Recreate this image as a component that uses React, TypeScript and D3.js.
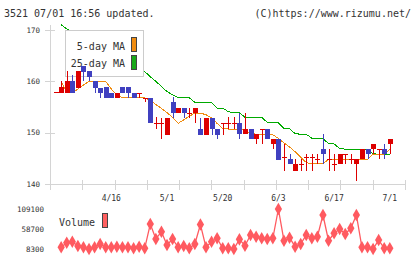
import React from 'react';
import * as d3 from 'd3';

// OHLC per trading day (index 0..60)
const opens = [157.9,157.8,157.8,160.0,158.7,163.0,162.0,160.0,158.7,158.9,157.8,156.8,158.9,158.9,157.8,157.8,156.8,156.8,151.8,151.8,149.6,155.9,153.8,154.8,153.8,153.8,150.7,149.6,152.9,150.7,151.8,151.9,151.9,151.9,149.7,150.8,148.8,150.7,150.7,147.8,148.8,145.2,144.8,142.5,143.9,145.3,145.3,144.8,146.8,144.8,143.9,143.9,145.8,144.8,143.9,144.8,146.8,146.8,146.8,146.8,147.8];
const highs = [157.9,160.0,162.0,161.3,162.0,163.0,162.0,160.0,158.7,158.9,157.8,157.8,158.9,158.9,157.8,157.8,156.8,156.8,153.0,152.9,152.9,156.9,154.8,154.8,154.8,154.8,152.9,152.9,152.9,150.7,151.8,153.0,153.0,153.9,153.9,150.8,149.7,150.7,150.7,148.8,148.8,147.8,145.8,144.8,144.8,145.9,145.9,145.9,149.7,146.8,145.8,145.8,145.8,145.8,144.8,146.8,146.8,147.8,146.8,147.8,148.8];
const lows = [157.9,157.8,157.8,157.8,158.7,160.0,160.0,157.8,156.8,156.8,156.8,156.8,157.8,156.8,156.8,156.8,155.9,151.8,150.8,148.8,149.6,152.9,153.8,152.9,152.9,151.8,149.6,149.6,149.6,148.8,149.6,150.8,150.8,148.8,149.7,148.8,147.8,147.8,148.8,146.8,144.7,142.5,143.8,142.5,142.5,142.5,142.5,143.9,143.9,142.5,142.5,143.9,143.9,143.9,140.6,144.8,144.8,145.8,144.8,144.8,145.8];
const closes = [157.9,158.9,160.0,157.8,162.0,161.8,160.9,158.7,157.8,156.8,156.8,157.8,157.8,157.8,156.8,157.8,156.8,151.8,151.8,151.8,152.9,153.8,154.8,153.8,153.8,154.8,149.6,152.9,150.7,149.6,151.8,151.9,151.9,149.7,150.8,148.8,149.7,150.7,148.8,148.8,144.7,145.2,143.9,143.9,143.9,145.3,145.3,144.8,145.8,144.8,143.9,145.8,145.8,144.8,144.8,146.8,145.8,147.8,146.8,145.8,148.8];
const upDay = [true,true,true,false,true,false,false,false,false,false,false,true,false,false,false,true,true,false,true,true,true,false,true,false,true,true,false,true,false,false,true,true,true,false,true,false,true,true,false,true,false,true,false,true,true,true,true,true,false,true,true,true,true,true,true,true,false,true,true,false,true];

const ma5 = [null,160,157.8,157.8,158.5,159.3,160,160,160,160,158.5,157.4,156.8,156.8,156.8,156.8,156.8,156.3,155.5,154.7,153.9,153.0,151.8,152.5,153.2,153.8,153.8,153.5,152.9,151.8,150.8,150.7,150.7,150.7,150.4,149.9,149.7,149.7,149.7,149.6,148.9,148.0,147.2,146.3,145.2,144.2,143.9,143.9,143.9,144.8,144.8,144.8,144.8,144.8,144.8,144.8,144.8,145.8,145.8,145.8,146.8];
const ma25 = [null,171.0,170.2,169.6,169.0,168.4,167.8,167.2,166.6,166.0,165.4,164.8,164.2,163.6,163.0,162.4,161.9,160.9,160.0,159.0,158.0,157.4,156.8,156.8,156.8,155.9,155.9,155.9,155.9,154.8,154.8,154.1,153.9,153.9,153.0,153.0,153.0,153.0,152.0,151.9,151.9,150.8,150.8,149.8,149.7,149.7,148.9,148.8,148.8,147.9,147.8,146.9,146.8,146.8,146.8,146.8,146.8,145.9,145.8,145.8,145.8];
const volumes = [null,12600,24200,26700,15900,12600,8300,12600,20900,12600,12600,14100,12600,12600,10100,14100,10100,71300,33500,51900,18400,33500,12600,15900,10100,20900,70000,12600,26700,35300,10100,10100,8300,32700,16600,43600,39300,35300,33500,35300,109100,29200,36800,14100,20900,43600,35300,39300,94000,29200,47900,58700,46100,60500,94000,12600,12600,8300,31000,10100,10100];

const xLabelIndex = [10,20,30,40,50,60];
const xLabels = ['4/16','5/1','5/20','6/3','6/17','7/1'];
const yTicks = [140,150,160,170];
const volTicks = [8300,58700,109100];
const legendItems = ['5-day MA','25-day MA'];

const RED = '#dd0000';
const BLUE = '#4040c0';
const ORANGE = '#f08c10';
const GREEN = '#00aa00';
const VOL = '#ff5a60';
const AXIS = '#d4d4d4';
const MONO = '"DejaVu Sans Mono", monospace';

export default function App() {
  const n = closes.length;
  const x = d3.scaleLinear().domain([0, n - 1]).range([55.6, 389.8]);
  const y = d3.scaleLinear().domain([140, 170]).range([184, 30]);
  const yv = d3.scaleLinear().domain([8300, 109100]).range([249, 209]);
  const tickX = d3.range(12).map((k) => 50 + k * (355 / 11));

  const maLine = d3
    .line<number | null>()
    .defined((d) => d != null)
    .x((_, i) => x(i))
    .y((d) => y(d as number));
  const volLine = d3
    .line<number | null>()
    .defined((d) => d != null)
    .x((_, i) => x(i))
    .y((d) => yv(d as number));
  const diamond = d3.symbol(d3.symbolDiamond, 46)();

  const bw = 5;

  return (
    <svg width={420} height={259} style={{ position: 'absolute', left: 0, top: 0, background: '#fff' }}>
      <text x={4} y={17} fontFamily={MONO} fontSize={10} fill="#333">3521 07/01 16:56 updated.</text>
      <text x={411} y={17} fontFamily={MONO} fontSize={10} fill="#333" textAnchor="end">(C)https://www.rizumu.net/</text>

      {/* axes */}
      <g shapeRendering="crispEdges" stroke={AXIS} strokeWidth={1}>
        <line x1={50.5} x2={50.5} y1={25} y2={190} />
        <line x1={45} x2={405} y1={184.5} y2={184.5} />
        {yTicks.map((t) => (
          <line key={t} x1={45} x2={55} y1={Math.round(y(t)) + 0.5} y2={Math.round(y(t)) + 0.5} />
        ))}
        {tickX.map((tx, k) => (
          <line key={k} x1={Math.round(tx) + 0.5} x2={Math.round(tx) + 0.5} y1={180} y2={190} />
        ))}
      </g>
      {yTicks.map((t) => (
        <text key={t} x={40} y={y(t) + 2.8} fontFamily={MONO} fontSize={7.5} fill="#333" textAnchor="end">{t}</text>
      ))}
      {xLabelIndex.map((idx, k) => (
        <text key={k} x={x(idx)} y={200.5} fontFamily={MONO} fontSize={8} fill="#333" textAnchor="middle">{xLabels[k]}</text>
      ))}

      {/* moving averages */}
      <path d={maLine(ma25) || ''} fill="none" stroke={GREEN} strokeWidth={1} shapeRendering="crispEdges" />
      <path d={maLine(ma5) || ''} fill="none" stroke={ORANGE} strokeWidth={1} shapeRendering="crispEdges" />

      {/* legend */}
      <g>
        <rect x={65.5} y={30.5} width={78} height={46} fill="#fff" stroke="#cccccc" shapeRendering="crispEdges" />
        {legendItems.map((t, k) => (
          <g key={t}>
            <text x={125} y={49.5 + k * 17.5} fontFamily={MONO} fontSize={10} fill="#333" textAnchor="end">{t}</text>
            <rect x={131.5} y={37.5 + k * 17.5} width={5} height={14} fill={k === 0 ? ORANGE : '#18a818'} stroke="#444" shapeRendering="crispEdges" />
          </g>
        ))}
      </g>

      {/* candles */}
      <g shapeRendering="crispEdges">
        {closes.map((c, i) => {
          const col = upDay[i] ? RED : BLUE;
          const cx = Math.round(x(i));
          const top = Math.round(y(Math.max(opens[i], c)));
          const bot = Math.round(y(Math.min(opens[i], c)));
          const h = Math.max(1, bot - top);
          return (
            <g key={i}>
              <line x1={cx + 0.5} x2={cx + 0.5} y1={Math.round(y(highs[i]))} y2={Math.round(y(lows[i]))} stroke={col} strokeWidth={1} />
              <rect x={cx - 2} y={top} width={bw} height={h} fill={col} />
            </g>
          );
        })}
      </g>

      {/* volume */}
      {volTicks.map((t) => (
        <text key={t} x={44} y={yv(t) + 2.8} fontFamily={MONO} fontSize={7.5} fill="#333" textAnchor="end">{t}</text>
      ))}
      <text x={59} y={226} fontFamily={MONO} fontSize={10} fill="#333">Volume</text>
      <rect x={102.5} y={213.5} width={5} height={14} fill="#ff6060" stroke="#444" shapeRendering="crispEdges" />
      <path d={volLine(volumes) || ''} fill="none" stroke={VOL} strokeWidth={1.3} />
      {volumes.map((v, i) =>
        v == null ? null : (
          <path key={i} d={diamond || ''} transform={`translate(${x(i)},${yv(v)})`} fill={VOL} />
        )
      )}
    </svg>
  );
}
